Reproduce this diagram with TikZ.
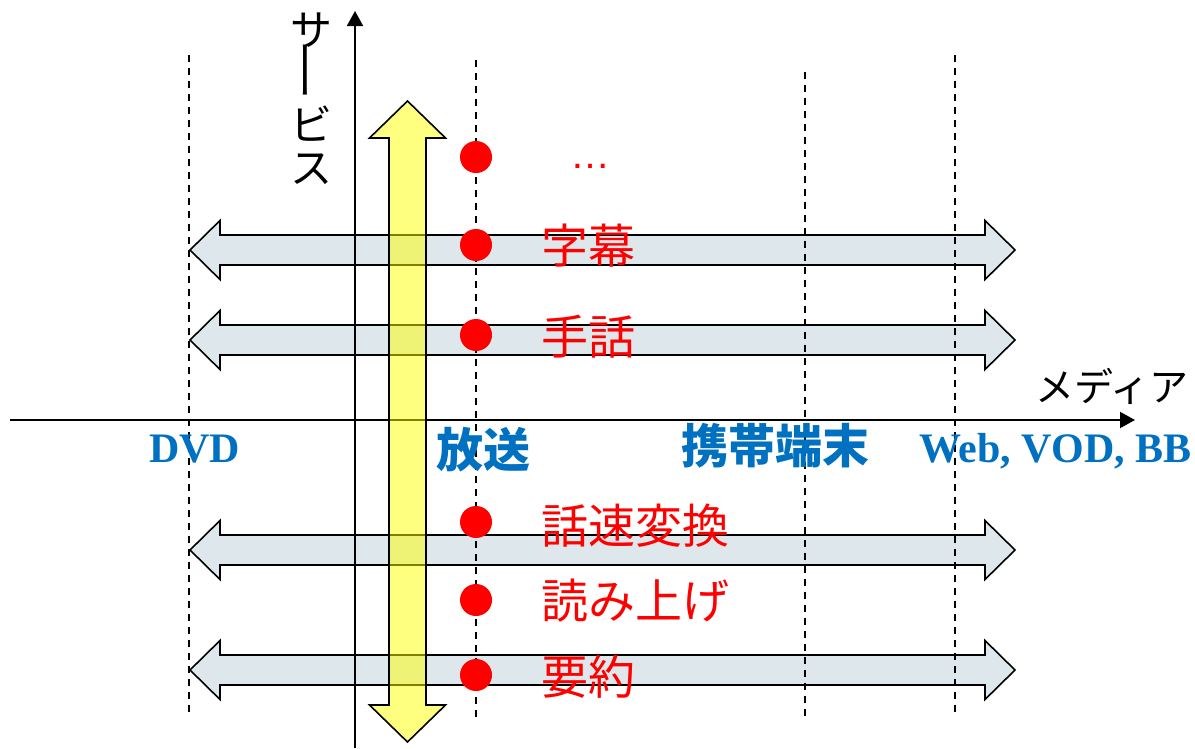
\documentclass[tikz,border=0pt]{standalone}
\usepackage{fontspec}
\usetikzlibrary{arrows.meta}
\newfontfamily\jp{Noto Sans CJK JP}
\newfontfamily\lserif{Liberation Serif}
\newfontfamily\lsans{Liberation Sans}
\definecolor{mblue}{RGB}{0,112,192}
\definecolor{abluefill}{RGB}{222,232,236}
\definecolor{ayellow}{RGB}{255,255,0}
\definecolor{dred}{RGB}{255,0,0}
\tikzset{
  axisline/.style={line width=2pt, -{Triangle[length=15pt,width=16pt]}},
  guide/.style={line width=1.6pt, dash pattern=on 7pt off 6pt},
  harrow/.style={fill=abluefill, draw=black, line width=1.6pt, line join=miter},
  varrow/.style={fill=ayellow, fill opacity=0.5, draw=black, line width=1.6pt, line join=miter},
  reddot/.style={circle, fill=dred, minimum size=32pt, inner sep=0pt},
  redlabel/.style={text=dred, font=\jp\fontsize{47}{50}\selectfont, inner sep=0pt, anchor=west},
  medialabel/.style={text=mblue, font=\jp\bfseries\fontsize{47}{50}\selectfont, inner sep=0pt},
  latinlabel/.style={text=mblue, font=\lserif\bfseries\fontsize{42}{45}\selectfont, inner sep=0pt, anchor=base west},
  axislabel/.style={font=\jp\fontsize{42}{46}\selectfont, inner sep=0pt}
}
\begin{document}
\begin{tikzpicture}[x=1pt,y=-1pt]
\useasboundingbox (0,0) rectangle (1195,748);
% horizontal double arrows
\foreach \c/\n in {250/ha, 340/hb, 550/hc, 670/hd}{
  \draw[harrow] (190,\c) -- (220,\c-29.5) -- (220,\c-15) -- (985,\c-15) -- (985,\c-29.5)
     -- (1015,\c) -- (985,\c+29.5) -- (985,\c+15) -- (220,\c+15) -- (220,\c+29.5) -- cycle;
}
% dashed guide lines
\coordinate (d1t) at (189,55);  \coordinate (d1b) at (189,716);
\coordinate (d2t) at (476,60);  \coordinate (d2b) at (476,720);
\coordinate (d3t) at (805,72);  \coordinate (d3b) at (805,716);
\coordinate (d4t) at (955,55);  \coordinate (d4b) at (955,716);
\draw[guide] (d1t) -- (d1b);
\draw[guide] (d2t) -- (d2b);
\draw[guide] (d3t) -- (d3b);
\draw[guide] (d4t) -- (d4b);
% axes
\coordinate (xs) at (10,420); \coordinate (xe) at (1135,420);
\coordinate (ys) at (355,748); \coordinate (ye) at (355,11);
\draw[axisline] (xs) -- (xe);
\draw[axisline] (ys) -- (ye);
% vertical yellow double arrow
\draw[varrow] (407.5,101) -- (445.5,138) -- (426,138) -- (426,705) -- (445.5,705)
   -- (407.5,742) -- (369.5,705) -- (389,705) -- (389,138) -- (369.5,138) -- cycle;
% red dots
\node[reddot] (p1) at (476,157) {};
\node[reddot] (p2) at (476,245) {};
\node[reddot] (p3) at (476,335) {};
\node[reddot] (p4) at (476,522) {};
\node[reddot] (p5) at (476,600) {};
\node[reddot] (p6) at (476,675) {};
% red labels
\node[text=dred, font=\lsans\fontsize{40}{44}\selectfont, inner sep=0pt, anchor=base] (l1) at (590,168) {…};
\node[redlabel] (l2) at (541,246) {字幕};
\node[redlabel] (l3) at (541,337) {手話};
\node[redlabel] (l4) at (541,526) {話速変換};
\node[redlabel] (l5) at (541,601) {読み上げ};
\node[redlabel] (l6) at (541,677) {要約};
% media labels
\node[latinlabel] (m1) at (149,462) {DVD};
\node[medialabel] (m2) at (483,450) {放送};
\node[medialabel] (m3) at (775,446) {携帯端末};
\node[latinlabel] (m4) at (919,462) {Web, VOD, BB};
% axis labels
\node[axislabel, font=\jp\fontsize{39}{44}\selectfont] (xl) at (1112,386) {メディア};
\node[axislabel] (yl1) at (311,30) {サ};
\node[axislabel, rotate=90] (yl2) at (312,70) {\scalebox{1.5}[1]{ー}};
\node[axislabel] (yl3) at (311,124) {ビ};
\node[axislabel] (yl4) at (311,169) {ス};
\end{tikzpicture}
\end{document}
